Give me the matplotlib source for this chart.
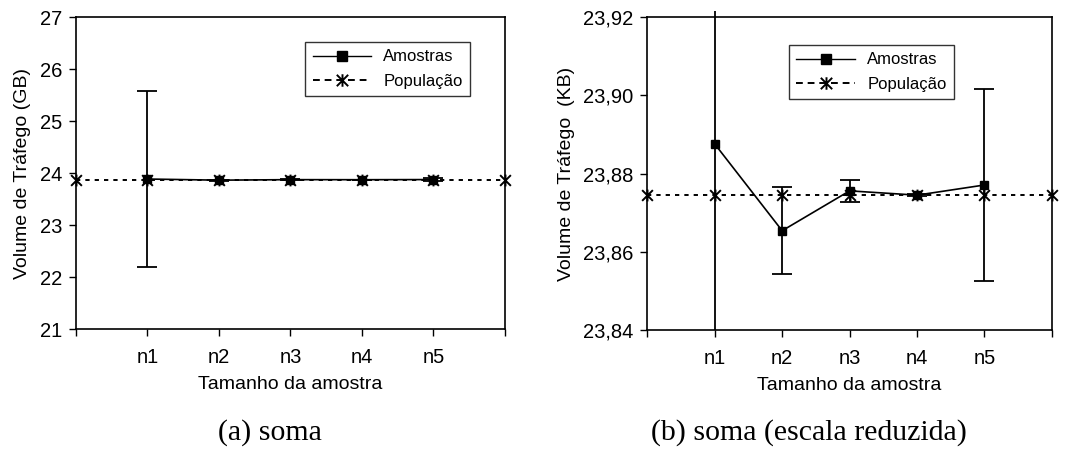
import numpy as np
import matplotlib
matplotlib.use("Agg")
import matplotlib.pyplot as plt
from matplotlib.path import Path
from matplotlib.lines import Line2D
from matplotlib.patches import Rectangle

plt.rcParams['font.family'] = ['Liberation Sans', 'DejaVu Sans']

# ---- data ----
categories = ["n1", "n2", "n3", "n4", "n5"]
amostras = [23.8876, 23.8654, 23.8756, 23.8745, 23.8771]
amostras_err = [1.70, 0.0111, 0.0028, 0.0003, 0.0246]
populacao_value = 23.8745
populacao_pos = [0, 1, 2, 3, 4, 5, 6]
populacao = [populacao_value] * len(populacao_pos)

left_ylim = (21, 27)
left_yticks = [21, 22, 23, 24, 25, 26, 27]
right_ylim = (23.84, 23.92)
right_yticks = [23.84, 23.86, 23.88, 23.90, 23.92]

# asterisk marker (x + vertical bar)
star = Path([(-1, -1), (1, 1), (-1, 1), (1, -1), (0, -1.1), (0, 1.1)],
            [Path.MOVETO, Path.LINETO, Path.MOVETO, Path.LINETO, Path.MOVETO, Path.LINETO])

fig = plt.figure(figsize=(10.66, 4.51), dpi=100)
ax1 = fig.add_axes([0.0713, 0.2705, 0.4024, 0.691])
ax2 = fig.add_axes([0.6072, 0.2683, 0.3796, 0.6933])

x_s = np.arange(1, len(categories) + 1)

def draw(ax, ylim, yticks, fmt, ylabel):
    ax.plot(populacao_pos, populacao, linestyle=(0, (2.2, 2.6)), color='black', lw=1.4,
            marker=star, markersize=8.5, markerfacecolor='none', markeredgecolor='black',
            markeredgewidth=1.4, zorder=3, clip_on=False)
    eb = ax.errorbar(x_s, amostras, yerr=amostras_err, color='black', lw=1.2,
                     marker='s', markersize=5.5, capsize=7, capthick=1.3,
                     elinewidth=1.3, zorder=4)
    # allow error bars to poke slightly above the plot area like the original
    clip = Rectangle((0, 0), 1, 1.02, transform=ax.transAxes, visible=False)
    ax.add_patch(clip)
    for art in list(eb.lines[1]) + list(eb.lines[2]):
        art.set_clip_path(clip)
    ax.set_xlim(0, 6)
    ax.set_ylim(*ylim)
    ax.set_yticks(yticks)
    ax.set_yticklabels([fmt(v) for v in yticks])
    ax.set_xticks(np.arange(0, 7))
    ax.set_xticklabels([""] + categories + [""])
    ax.tick_params(axis='both', direction='out', length=5, width=1.0, labelsize=14.5,
                   colors='black')
    ax.tick_params(axis='x', pad=9)
    ax.tick_params(axis='y', pad=5)
    for s in ax.spines.values():
        s.set_linewidth(1.2)
    ax.set_xlabel("Tamanho da amostra", fontsize=14, labelpad=6)
    ax.set_ylabel(ylabel, fontsize=14, labelpad=6)

draw(ax1, left_ylim, left_yticks, lambda v: f"{v:.0f}", "Volume de Tráfego (GB)")
draw(ax2, right_ylim, right_yticks, lambda v: f"{v:.2f}".replace('.', ','), "Volume de Tráfego  (KB)")

handles = [
    Line2D([], [], color='black', lw=1.0, marker='s', markersize=6.5),
    Line2D([], [], color='black', lw=1.4, linestyle=(0, (3.5, 2.5)), marker=star, markersize=9,
           markerfacecolor='none', markeredgewidth=1.4),
]
labels = ["Amostras", "População"]
for ax, anchor in ((ax1, (0.534, 0.921)), (ax2, (0.35, 0.912))):
    leg = ax.legend(handles, labels, loc='upper left', bbox_to_anchor=anchor,
                    borderaxespad=0, fontsize=12, frameon=True, fancybox=False,
                    handlelength=3.5, handletextpad=0.75, borderpad=0.45,
                    labelspacing=0.55)
    leg.get_frame().set_edgecolor('black')
    leg.get_frame().set_linewidth(1.0)

fig.text(0.2533, 0.04, "(a) soma", family='Liberation Serif', fontsize=21.5,
         ha='center', va='center')
fig.text(0.759, 0.04, "(b) soma (escala reduzida)", family='Liberation Serif', fontsize=21.5,
         ha='center', va='center')

fig.savefig("out.png", dpi=100)
